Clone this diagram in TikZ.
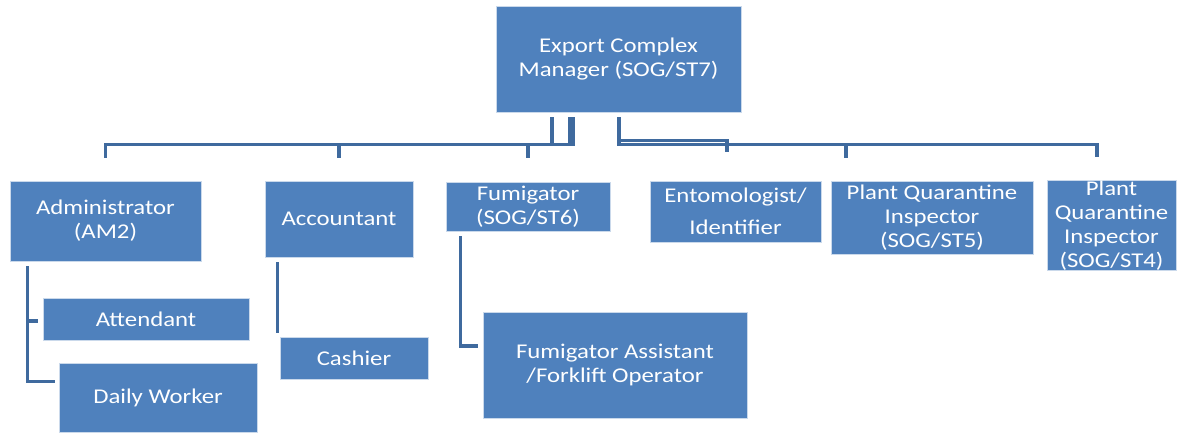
\documentclass[tikz,border=0pt]{standalone}
\usepackage{fontspec}
\setmainfont[FakeStretch=1.18]{Carlito}
\usetikzlibrary{positioning}
\definecolor{boxblue}{HTML}{4F81BD}
\definecolor{lineblue}{HTML}{3F6A9E}

\begin{document}
\begin{tikzpicture}[x=1pt,y=-1pt,
        every node/.style={shape=rectangle,draw=white!70!boxblue,line width=0.8pt,fill=boxblue,text=white,align=center,inner sep=0pt,font=\fontsize{21}{24}\selectfont},
        conn/.style={draw=lineblue,line width=3.5pt,shorten <=5pt},
        ]
\useasboundingbox (0,0) rectangle (1178,433);

\node[minimum width=245pt,minimum height=106pt] (mgr) at (618.5,59) {Export Complex\\Manager (SOG/ST7)};

\node[minimum width=191pt,minimum height=80pt] (admin) at (105.5,221) {Administrator\\(AM2)};
\node[minimum width=148pt,minimum height=76pt] (acct) at (339,219) {Accountant};
\node[minimum width=164pt,minimum height=49pt] (fumi) at (528,206.5) {Fumigator\\(SOG/ST6)};
\node[minimum width=171pt,minimum height=61pt] (ento) at (735.5,211.5) {Entomologist/\\[8pt]Identifier};
\node[minimum width=202pt,minimum height=73pt] (pqi5) at (932,217.5) {Plant Quarantine\\Inspector\\(SOG/ST5)};
\node[minimum width=129pt,minimum height=89pt] (pqi4) at (1111.5,225.5) {Plant\\Quarantine\\Inspector\\(SOG/ST4)};

\node[minimum width=206pt,minimum height=42pt] (attend) at (146,319) {Attendant};
\node[minimum width=198pt,minimum height=69pt] (daily) at (158,397.5) {Daily Worker};
\node[minimum width=148pt,minimum height=42pt] (cashier) at (354,358) {Cashier};
\node[minimum width=264pt,minimum height=106pt] (fumiast) at (615,365) {Fumigator Assistant\\/Forklift Operator};

\path[conn,shorten >=23pt] ([xshift=-48.5pt]mgr.south) -- ++(0pt,-32pt) -| (admin.north);
\path[conn,shorten >=23pt] ([xshift=-45.5pt]mgr.south) -- ++(0pt,-32pt) -| (acct.north);
\path[conn,shorten >=24pt] ([xshift=-66.5pt]mgr.south) -- ++(0pt,-32pt) -| (fumi.north);
\path[conn,shorten >=29pt] ([xshift=0.5pt]mgr.south) -- ++(0pt,-28pt) -| ([xshift=-8.5pt]ento.north);
\path[conn,shorten >=23pt] ([xshift=0.5pt]mgr.south) -- ++(0pt,-32pt) -| ([xshift=-86pt]pqi5.north);
\path[conn,shorten >=23pt] ([xshift=0.5pt]mgr.south) -- ++(0pt,-32pt) -| ([xshift=-14.5pt]pqi4.north);

\path[conn] ([xshift=18pt]admin.south west) |- ([xshift=-5pt,yshift=-2pt]attend.west);
\path[conn] ([xshift=18pt]admin.south west) |- ([xshift=-4pt,yshift=16pt]daily.west);
\path[conn] ([xshift=13pt]acct.south west) -- ([xshift=-2pt,yshift=4pt]cashier.north west);
\path[conn] ([xshift=15pt]fumi.south west) |- ([xshift=-5pt,yshift=19pt]fumiast.west);

\end{tikzpicture}
\end{document}
